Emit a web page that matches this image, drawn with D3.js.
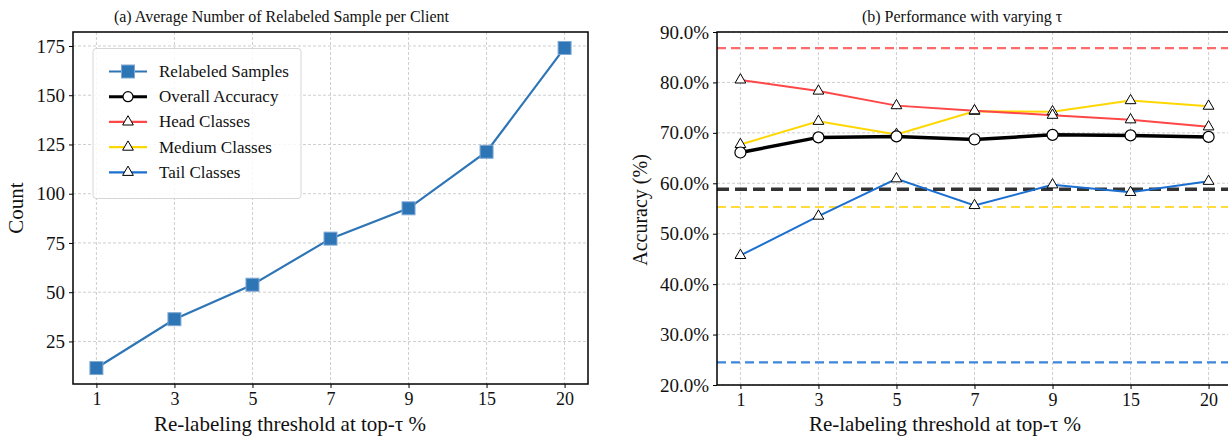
<!DOCTYPE html>
<html>
<head>
<meta charset="utf-8">
<script src="https://cdn.jsdelivr.net/npm/d3@7"></script>
<style>
  body { margin: 0; background: #fff; }
  svg text { font-family: "Liberation Serif", "DejaVu Serif", serif; fill: #111; }
</style>
</head>
<body>
<div id="vis"></div>
<script>
// data
const TAUS = ["1", "3", "5", "7", "9", "15", "20"];
const RELABELED = [11.5, 36.3, 53.8, 77.2, 92.6, 121.3, 174];
const OVERALL = [66.1, 69.1, 69.3, 68.7, 69.6, 69.5, 69.2];
const HEAD = [80.5, 78.3, 75.4, 74.4, 73.5, 72.6, 71.2];
const MEDIUM = [67.7, 72.3, 69.7, 74.3, 74.2, 76.4, 75.3];
const TAIL = [45.7, 53.5, 60.9, 55.6, 59.7, 58.2, 60.4];
// baselines (dashed)
const BASE_HEAD = 86.8;
const BASE_OVERALL = 58.8;
const BASE_MEDIUM = 55.3;
const BASE_TAIL = 24.5;
const LEFT_TICKS = [25, 50, 75, 100, 125, 150, 175];
const RIGHT_TICKS = [20, 30, 40, 50, 60, 70, 80, 90];

const W = 1228, H = 437;
const C_BLUE = "#2e75b6", C_RED = "#ff4747", C_YEL = "#ffd700", C_TAIL = "#1a6fd0";

const svg = d3.select("#vis").append("svg")
  .attr("width", W).attr("height", H);

function grid(g, x, y, yticks, x0, x1, y0, y1) {
  g.selectAll(".gx").data(TAUS).enter().append("line")
    .attr("x1", d => x(d)).attr("x2", d => x(d))
    .attr("y1", y0).attr("y2", y1)
    .attr("stroke", "#c8c8c8").attr("stroke-width", 0.9).attr("stroke-dasharray", "3,2");
  g.selectAll(".gy").data(yticks).enter().append("line")
    .attr("x1", x0).attr("x2", x1)
    .attr("y1", d => y(d)).attr("y2", d => y(d))
    .attr("stroke", "#c8c8c8").attr("stroke-width", 0.9).attr("stroke-dasharray", "3,2");
}

function axes(g, x, y, yticks, fmt, x0, x1, y0, y1) {
  const xa = g.append("g").attr("transform", `translate(0,${y1})`)
    .call(d3.axisBottom(x).tickSize(4).tickPadding(4));
  const ya = g.append("g").attr("transform", `translate(${x0},0)`)
    .call(d3.axisLeft(y).tickValues(yticks).tickFormat(fmt).tickSize(4).tickPadding(4));
  xa.selectAll("text").attr("font-size", "18px");
  ya.selectAll("text").attr("font-size", "19px");
  [xa, ya].forEach(a => {
    a.select(".domain").remove();
    a.selectAll("text").attr("fill", "#111")
      .style("font-family", '"Liberation Serif", serif');
    a.selectAll("line").attr("stroke", "#000").attr("stroke-width", 1);
  });
  g.append("rect").attr("x", x0).attr("y", y0)
    .attr("width", x1 - x0).attr("height", y1 - y0)
    .attr("fill", "none").attr("stroke", "#000").attr("stroke-width", 1.5);
}

function triangles(g, pts, color) {
  g.selectAll(null).data(pts).enter().append("path")
    .attr("d", d3.symbol().type(d3.symbolTriangle).size(50))
    .attr("transform", d => `translate(${d[0]},${d[1]})`)
    .attr("fill", "#fff").attr("stroke", "#000").attr("stroke-width", 1);
}

// ---------- left chart ----------
const L = {x0: 73, x1: 588, y0: 32, y1: 384};
const xL = d3.scalePoint().domain(TAUS).range([L.x0, L.x1]).padding(0.3);
const yL = d3.scaleLinear().domain([3.4, 182.1]).range([L.y1, L.y0]);
const gL = svg.append("g");
grid(gL, xL, yL, LEFT_TICKS, L.x0, L.x1, L.y0, L.y1);

gL.append("path").datum(RELABELED)
  .attr("d", d3.line().x((d, i) => xL(TAUS[i])).y(d => yL(d)))
  .attr("fill", "none").attr("stroke", C_BLUE).attr("stroke-width", 2.2);
gL.selectAll(".sq").data(RELABELED).enter().append("rect")
  .attr("x", (d, i) => xL(TAUS[i]) - 6.5).attr("y", d => yL(d) - 6.5)
  .attr("width", 13).attr("height", 13)
  .attr("fill", C_BLUE).attr("stroke", "#7fa9d3").attr("stroke-width", 1);

axes(gL, xL, yL, LEFT_TICKS, d3.format("d"), L.x0, L.x1, L.y0, L.y1);

// legend
const lg = gL.append("g");
lg.append("rect").attr("x", 93).attr("y", 48.5).attr("width", 208).attr("height", 150)
  .attr("rx", 3).attr("fill", "#fff").attr("fill-opacity", 0.85)
  .attr("stroke", "#d6d6d6").attr("stroke-width", 1);
const LEG = [
  {name: "Relabeled Samples", color: C_BLUE, mark: "square", w: 2.2},
  {name: "Overall Accuracy", color: "#000", mark: "circle", w: 3},
  {name: "Head Classes", color: C_RED, mark: "tri", w: 2.2},
  {name: "Medium Classes", color: C_YEL, mark: "tri", w: 2.2},
  {name: "Tail Classes", color: C_TAIL, mark: "tri", w: 2.2}
];
LEG.forEach((e, i) => {
  const yy = 71.5 + i * 25.2;
  lg.append("line").attr("x1", 109).attr("x2", 147).attr("y1", yy).attr("y2", yy)
    .attr("stroke", e.color).attr("stroke-width", e.w);
  if (e.mark === "square") {
    lg.append("rect").attr("x", 121.5).attr("y", yy - 6.5).attr("width", 13).attr("height", 13)
      .attr("fill", C_BLUE).attr("stroke", "#7fa9d3");
  } else if (e.mark === "circle") {
    lg.append("circle").attr("cx", 128).attr("cy", yy).attr("r", 5)
      .attr("fill", "#fff").attr("stroke", "#000").attr("stroke-width", 1.2);
  } else {
    triangles(lg, [[128, yy]], e.color);
  }
  lg.append("text").attr("x", 159).attr("y", yy + 5.5).attr("font-size", "17px").text(e.name);
});

gL.append("text").attr("x", (L.x0 + L.x1) / 2 - 49).attr("y", 22)
  .attr("text-anchor", "middle").attr("font-size", "16px")
  .text("(a) Average Number of Relabeled Sample per Client");
gL.append("text").attr("x", 290).attr("y", 431)
  .attr("text-anchor", "middle").attr("font-size", "21px")
  .text("Re-labeling threshold at top-τ %");
gL.append("text").attr("transform", "translate(23,208) rotate(-90)")
  .attr("text-anchor", "middle").attr("font-size", "21px").text("Count");

// ---------- right chart ----------
const R = {x0: 717, x1: 1232, y0: 32, y1: 385};
const xR = d3.scalePoint().domain(TAUS).range([R.x0, R.x1]).padding(0.3);
const yR = d3.scaleLinear().domain([20, 90]).range([R.y1, R.y0]);
const gR = svg.append("g");
grid(gR, xR, yR, RIGHT_TICKS, R.x0, R.x1, R.y0, R.y1);

const BASES = [
  {v: BASE_HEAD, c: "#ff6b6b", w: 2.2, dash: "9,5"},
  {v: BASE_MEDIUM, c: "#ffdc3c", w: 2.2, dash: "9,5"},
  {v: BASE_TAIL, c: "#3b86db", w: 2.2, dash: "9,5"},
  {v: BASE_OVERALL, c: "#333", w: 3.5, dash: "12,6"}
];
BASES.forEach(b => {
  gR.append("line").attr("x1", R.x0).attr("x2", R.x1)
    .attr("y1", yR(b.v)).attr("y2", yR(b.v))
    .attr("stroke", b.c).attr("stroke-width", b.w).attr("stroke-dasharray", b.dash);
});

const lineR = d3.line().x((d, i) => xR(TAUS[i])).y(d => yR(d));
const SERIES = [
  {vals: TAIL, c: C_TAIL},
  {vals: MEDIUM, c: C_YEL},
  {vals: HEAD, c: C_RED}
];
SERIES.forEach(s => {
  gR.append("path").datum(s.vals).attr("d", lineR)
    .attr("fill", "none").attr("stroke", s.c).attr("stroke-width", 2);
});
gR.append("path").datum(OVERALL).attr("d", lineR)
  .attr("fill", "none").attr("stroke", "#000").attr("stroke-width", 3.5);
SERIES.forEach(s => {
  triangles(gR, s.vals.map((v, i) => [xR(TAUS[i]), yR(v)]), s.c);
});
gR.selectAll(".ov").data(OVERALL).enter().append("circle")
  .attr("cx", (d, i) => xR(TAUS[i])).attr("cy", d => yR(d)).attr("r", 5.5)
  .attr("fill", "#fff").attr("stroke", "#000").attr("stroke-width", 1.2);

axes(gR, xR, yR, RIGHT_TICKS, d => d.toFixed(1) + "%", R.x0, R.x1, R.y0, R.y1);

gR.append("text").attr("x", 962).attr("y", 22)
  .attr("text-anchor", "middle").attr("font-size", "16px")
  .text("(b) Performance with varying τ");
gR.append("text").attr("x", 945).attr("y", 431)
  .attr("text-anchor", "middle").attr("font-size", "21px")
  .text("Re-labeling threshold at top-τ %");
gR.append("text").attr("transform", "translate(647,210) rotate(-90)")
  .attr("text-anchor", "middle").attr("font-size", "20px").text("Accuracy (%)");
</script>
</body>
</html>
